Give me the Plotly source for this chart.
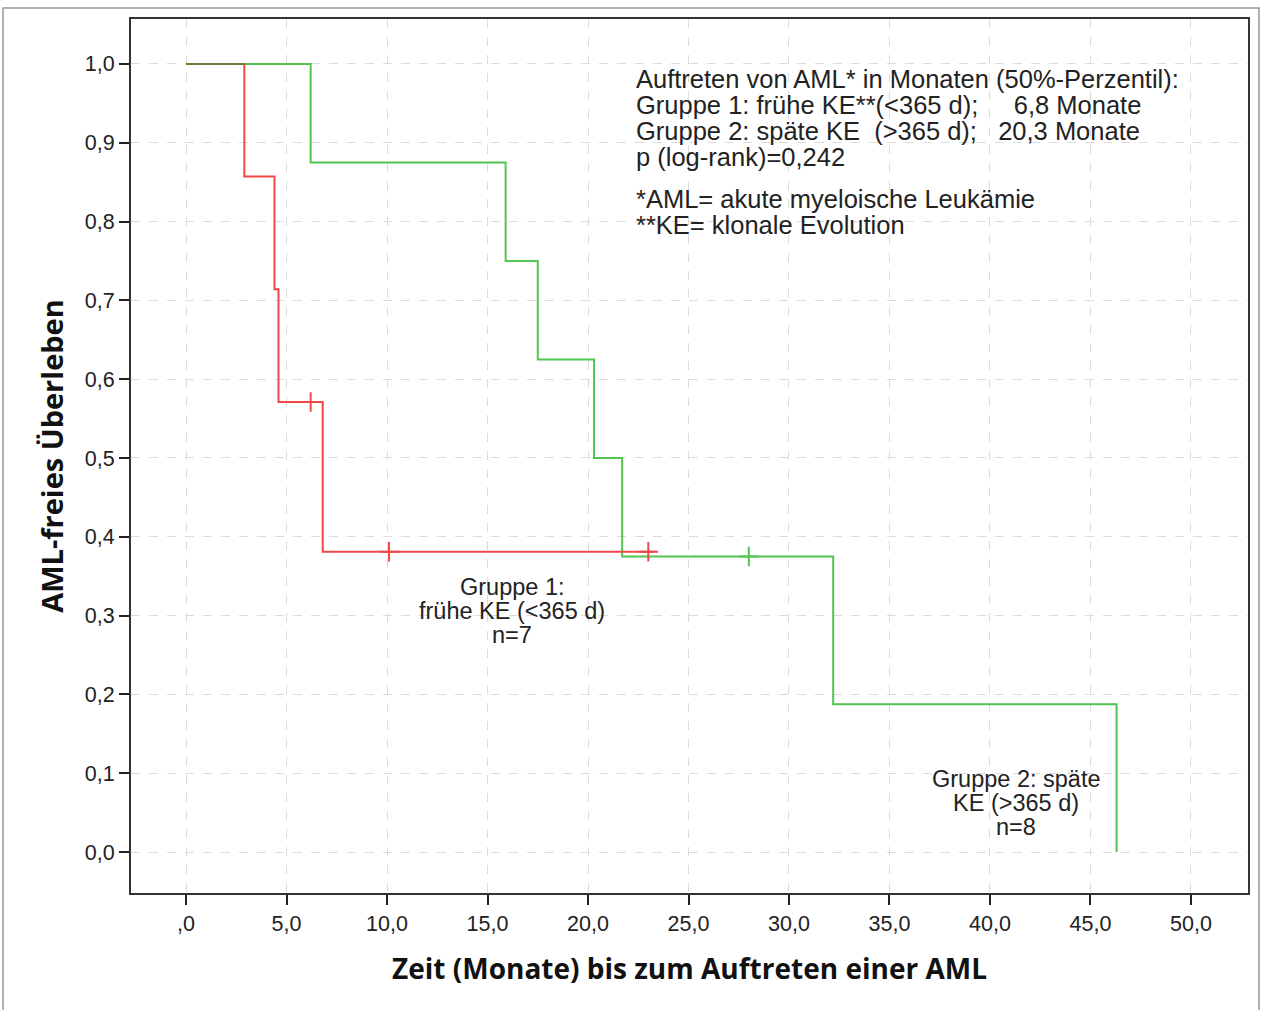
import plotly.graph_objects as go

# ---- data ----
red_times = [0.0, 2.9, 4.4, 4.6, 6.8]
red_surv = [1.0, 0.857, 0.714, 0.571, 0.381]
red_end = 23.3
red_censor_t = [6.2, 10.1, 23.0]
red_censor_s = [0.571, 0.381, 0.381]

green_times = [0.0, 6.2, 15.9, 17.5, 20.3, 21.7, 32.2, 46.3]
green_surv = [1.0, 0.875, 0.75, 0.625, 0.5, 0.375, 0.1875, 0.0]
green_censor_t = [28.0]
green_censor_s = [0.375]

x_tickvals = [0, 5, 10, 15, 20, 25, 30, 35, 40, 45, 50]
x_ticktext = [",0", "5,0", "10,0", "15,0", "20,0", "25,0", "30,0", "35,0", "40,0", "45,0", "50,0"]
y_tickvals = [0.0, 0.1, 0.2, 0.3, 0.4, 0.5, 0.6, 0.7, 0.8, 0.9, 1.0]
y_ticktext = ["0,0", "0,1", "0,2", "0,3", "0,4", "0,5", "0,6", "0,7", "0,8", "0,9", "1,0"]

info_lines = ["Auftreten von AML* in Monaten (50%-Perzentil):",
              "Gruppe 1: frühe KE**(&lt;365 d);     6,8 Monate",
              "Gruppe 2: späte KE  (&gt;365 d);   20,3 Monate",
              "p (log-rank)=0,242"]
note_lines = ["*AML= akute myeloische Leukämie", "**KE= klonale Evolution"]
group1_lines = ["Gruppe 1:", "frühe KE (&lt;365 d)", "n=7"]
group2_lines = ["Gruppe 2: späte", "KE (&gt;365 d)", "n=8"]

RED = "#f04848"
GREEN = "#52c452"
OLIVE = "#6e7d3e"
FONT = "Liberation Sans, Arial, sans-serif"
TXT = "#222222"

fig = go.Figure()

fig.add_trace(go.Scatter(x=green_times, y=green_surv, mode="lines",
                         line=dict(color=GREEN, width=2, shape="hv"), showlegend=False))
fig.add_trace(go.Scatter(x=red_times + [red_end], y=red_surv + [red_surv[-1]], mode="lines",
                         line=dict(color=RED, width=2, shape="hv"), showlegend=False))
# overlapping initial segment (both curves at 1.0)
overlap_end = min(red_times[1], green_times[1])
fig.add_trace(go.Scatter(x=[red_times[0], overlap_end], y=[red_surv[0], green_surv[0]], mode="lines",
                         line=dict(color=OLIVE, width=2), showlegend=False))
fig.add_trace(go.Scatter(x=red_censor_t, y=red_censor_s, mode="markers",
                         marker=dict(symbol="cross-thin-open", size=14, color=RED,
                                     line=dict(color=RED, width=2)),
                         showlegend=False))
fig.add_trace(go.Scatter(x=green_censor_t, y=green_censor_s, mode="markers",
                         marker=dict(symbol="cross-thin-open", size=14, color=GREEN,
                                     line=dict(color=GREEN, width=2)),
                         showlegend=False))


def add_lines(lines, x, y, pitch, size, anchor):
    for i, t in enumerate(lines):
        fig.add_annotation(x=x, y=y, xref="x", yref="y", xanchor=anchor, yanchor="middle",
                           yshift=-pitch * i, showarrow=False, borderpad=0,
                           font=dict(family=FONT, size=size, color=TXT), text=t)


add_lines(info_lines, 22.35, 0.981, 26, 25.5, "left")
add_lines(note_lines, 22.35, 0.8287, 26, 25.5, "left")
add_lines(group1_lines, 16.24, 0.3363, 24, 23.5, "center")
add_lines(group2_lines, 41.32, 0.0926, 24, 23.5, "center")

# outer frame
fig.add_shape(type="rect", xref="paper", yref="paper", x0=-0.1146, x1=1.0098, y0=-0.2, y1=1.0126,
              line=dict(color="#999", width=1.5), layer="below")

fig.update_layout(
    width=1263, height=1010,
    margin=dict(l=131, r=15, t=19, b=117),
    paper_bgcolor="white", plot_bgcolor="white",
    font=dict(family=FONT, size=21, color=TXT),
    xaxis=dict(range=[-2.74, 52.84], tickvals=x_tickvals, ticktext=x_ticktext,
               ticks="outside", ticklen=10, tickwidth=1.5, tickcolor="#222",
               showgrid=True, gridcolor="#dcdcdc", griddash="dash", gridwidth=1,
               zeroline=False, showline=True, linecolor="#333", linewidth=2, mirror=True,
               tickfont=dict(size=21.5),
               title=dict(text="<b>Zeit (Monate) bis zum Auftreten einer AML</b>",
                          font=dict(size=28, family="Open Sans, sans-serif", color="#111"), standoff=25)),
    yaxis=dict(range=[-0.052, 1.057], tickvals=y_tickvals, ticktext=y_ticktext,
               ticks="outside", ticklen=10, tickwidth=1.5, tickcolor="#222",
               showgrid=True, gridcolor="#dcdcdc", griddash="dash", gridwidth=1,
               zeroline=False, showline=True, linecolor="#333", linewidth=2, mirror=True,
               tickfont=dict(size=21.5),
               title=dict(text="<b>AML-freies Überleben</b>",
                          font=dict(size=29, family="Open Sans, sans-serif", color="#111"), standoff=13)),
)

fig.write_html("out.html")
